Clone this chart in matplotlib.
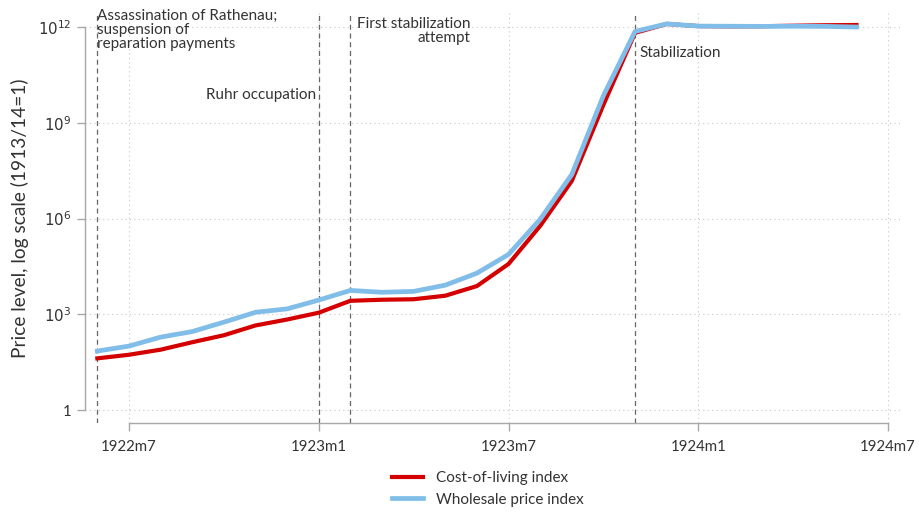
import matplotlib
matplotlib.use("Agg")
import matplotlib.pyplot as plt

plt.rcParams["font.family"] = ["Lato", "DejaVu Sans"]

# months counted from 1922m7 = 0
months = list(range(-1, 24))  # 1922m6 .. 1924m6

cost_of_living = [
    41.5, 53.9, 77.7, 133, 220, 446, 685,
    1120, 2643, 2854, 2954, 3816, 7650, 37651, 586045,
    1.5e7, 3.66e9, 6.57e11, 1.25e12,
    1.07e12, 1.05e12, 1.06e12, 1.1e12, 1.14e12, 1.16e12,
]
wholesale = [
    70.3, 100.6, 192, 287, 566, 1154, 1475,
    2785, 5585, 4888, 5212, 8170, 19385, 74787, 944041,
    2.39e7, 7.09e9, 7.26e11, 1.26e12,
    1.07e12, 1.06e12, 1.05e12, 1.06e12, 1.05e12, 1.0e12,
]

tick_pos = [0, 6, 12, 18, 24]
tick_labels = ["1922m7", "1923m1", "1923m7", "1924m1", "1924m7"]
ytick_pos = [1, 1e3, 1e6, 1e9, 1e12]
ytick_labels = ["1", "$10^3$", "$10^6$", "$10^9$", "$10^{12}$"]

events = [-1, 6, 7, 16]

fig = plt.figure(figsize=(9.19, 5.12), dpi=100)
ax = fig.add_axes([85 / 919, 1 - 423 / 512, (902 - 85) / 919, (423 - 13) / 512])

ax.set_yscale("log")
ax.set_xlim(-1.39, 24.44)
ax.set_ylim(10 ** -0.407, 10 ** 12.44)

for y in ytick_pos:
    ax.axhline(y, color="#c8c8c8", lw=0.8, ls=(0, (1, 3)), zorder=0)
for x in tick_pos:
    ax.axvline(x, color="#c8c8c8", lw=0.8, ls=(0, (1, 3)), zorder=0)

for x in events:
    ax.axvline(x, color="#666666", lw=0.9, ls=(0, (4, 3)), zorder=1)

ax.plot(months, cost_of_living, color="#d40000", lw=3.0, label="Cost-of-living index", zorder=3)
ax.plot(months, wholesale, color="#80bde8", lw=3.4, label="Wholesale price index", zorder=4)

ax.set_xticks(tick_pos)
ax.set_xticklabels(tick_labels)
ax.set_yticks(ytick_pos)
ax.set_yticklabels(ytick_labels)
ax.minorticks_off()

for side in ["top", "right"]:
    ax.spines[side].set_visible(False)
ax.spines["left"].set_bounds(1, 1e12)
ax.spines["bottom"].set_bounds(0, 24)
for side in ["left", "bottom"]:
    ax.spines[side].set_color("#a8a8a8")
    ax.spines[side].set_linewidth(1.0)
ax.tick_params(axis="both", colors="#a8a8a8", length=6, width=1.0,
               labelcolor="#333333", labelsize=10.8)
ax.tick_params(axis="x", pad=6)
ax.tick_params(axis="y", pad=4)

ax.set_ylabel("Price level, log scale (1913/14=1)", fontsize=13.8, color="#333333", labelpad=6)

ax.annotate("Assassination of Rathenau;\nsuspension of\nreparation payments",
            xy=(-1, 10 ** 12.44), xytext=(0, 3), textcoords="offset points",
            ha="left", va="top", fontsize=11, color="#333333", linespacing=1.0)
ax.annotate("Ruhr occupation", xy=(6, 10 ** 12.44), xytext=(-2, -59), textcoords="offset points",
            ha="right", va="center", fontsize=11, color="#333333")
ax.annotate("First stabilization\nattempt", xy=(7, 10 ** 12.44), xytext=(5, -3), textcoords="offset points",
            ha="left", va="top", multialignment="right", fontsize=11, color="#333333",
            linespacing=1.0)
ax.annotate("Stabilization", xy=(16, 10 ** 12.44), xytext=(3, -29), textcoords="offset points",
            ha="left", va="center", fontsize=11, color="#333333")

fig.legend(loc="center", bbox_to_anchor=(488 / 919, 1 - 489 / 512), ncol=1, frameon=False,
           fontsize=11, handlelength=2.0, handletextpad=0.9, labelspacing=0.5,
           labelcolor="#333333")

fig.savefig("out.png", dpi=100)
